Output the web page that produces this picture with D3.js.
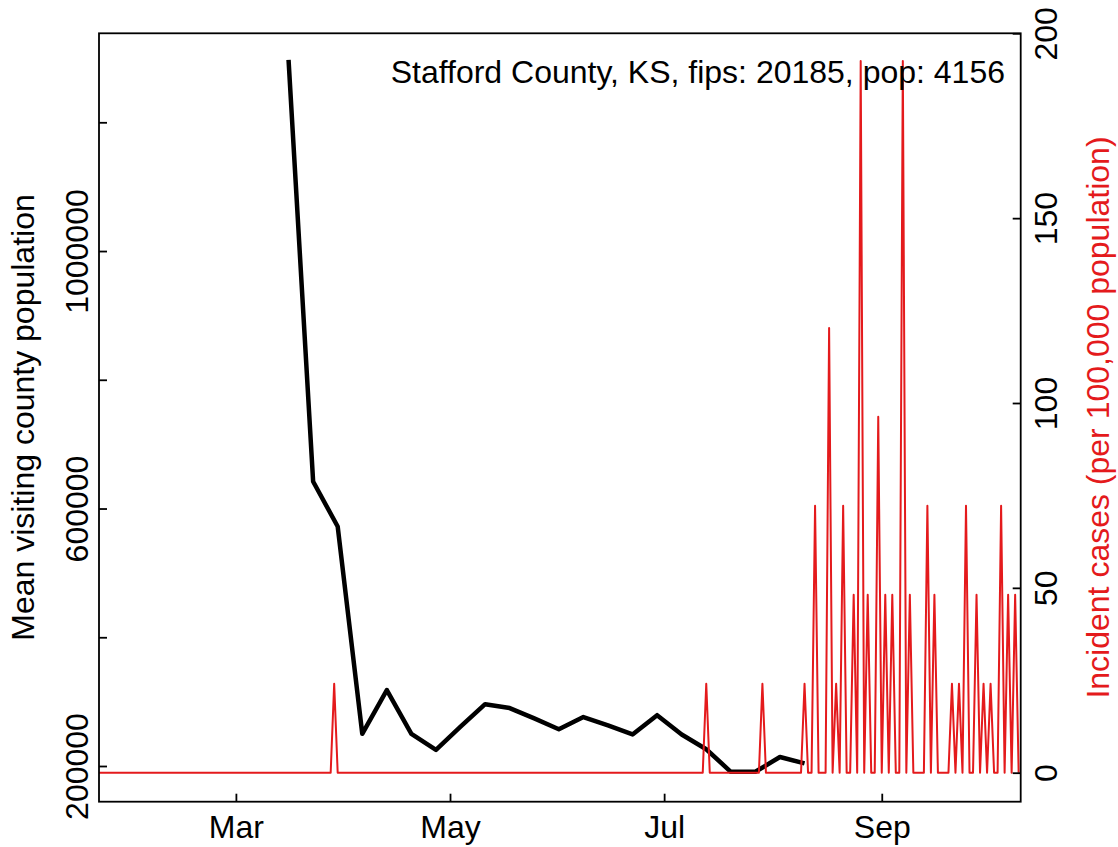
<!DOCTYPE html>
<html>
<head>
<meta charset="utf-8">
<script src="https://cdn.jsdelivr.net/npm/d3@7"></script>
<style>
  html, body { margin: 0; padding: 0; background: #fff; }
  svg { display: block; font-family: "Liberation Sans", Arial, sans-serif; }
</style>
</head>
<body>
<svg id="chart" width="1118" height="847"></svg>
<script>
// ---------------- DATA ----------------
const annotation = "Stafford County, KS, fips: 20185, pop: 4156";
const leftTitle = "Mean visiting county population";
const rightTitle = "Incident cases (per 100,000 population)";

// Weekly mean visiting county population (black line)
const visitDates = ["2020-03-16","2020-03-23","2020-03-30","2020-04-06","2020-04-13","2020-04-20",
  "2020-04-27","2020-05-04","2020-05-11","2020-05-18","2020-05-25","2020-06-01","2020-06-08",
  "2020-06-15","2020-06-22","2020-06-29","2020-07-06","2020-07-13","2020-07-20","2020-07-27",
  "2020-08-03","2020-08-10"];
const visitValues = [1297000, 642000, 572000, 250000, 318000, 250000,
  225000, 261000, 296000, 290000, 274000, 257000, 276000,
  263000, 249000, 279000, 249000, 226000, 191000, 191000,
  214000, 204000];

// Daily incident cases per 100,000 (red line), from 2020-01-22 to 2020-10-10
const caseStart = "2020-01-22";
const casesJan = [0,0,0,0,0,0,0,0,0,0];
const casesFeb = [0,0,0,0,0,0,0,0,0,0,0,0,0,0,0,0,0,0,0,0,0,0,0,0,0,0,0,0,0];
const casesMar = [0,0,0,0,0,0,0,0,0,0,0,0,0,0,0,0,0,0,0,0,0,0,0,0,0,0,0,0,24.06,0,0];
const casesApr = [0,0,0,0,0,0,0,0,0,0,0,0,0,0,0,0,0,0,0,0,0,0,0,0,0,0,0,0,0,0];
const casesMay = [0,0,0,0,0,0,0,0,0,0,0,0,0,0,0,0,0,0,0,0,0,0,0,0,0,0,0,0,0,0,0];
const casesJun = [0,0,0,0,0,0,0,0,0,0,0,0,0,0,0,0,0,0,0,0,0,0,0,0,0,0,0,0,0,0];
const casesJul = [0,0,0,0,0,0,0,0,0,0,0,0,24.06,0,0,0,0,0,0,0,0,0,0,0,0,0,0,0,24.06,0,0];
const casesAug = [0,0,0,0,0,0,0,0,0,24.06,0,0,72.18,0,0,0,120.31,0,24.06,0,72.18,0,0,48.12,0,192.49,0,48.12,0,0,96.25];
const casesSep = [0,48.12,0,48.12,0,0,192.49,0,48.12,0,0,0,0,72.18,0,48.12,0,0,0,0,24.06,0,24.06,0,72.18,0,0,48.12,0,24.06];
const casesOct = [0,24.06,0,0,72.18,0,48.12,0,48.12,0];

const xTickDates = ["2020-03-01","2020-05-01","2020-07-01","2020-09-01"];
const xTickLabels = ["Mar","May","Jul","Sep"];
const leftTickValues = [200000,400000,600000,800000,1000000,1200000];
const leftTickLabels = ["200000","","600000","","1000000",""];
const rightTickValues = [0,50,100,150,200];
const rightTickLabels = ["0","50","100","150","200"];

// ---------------- LAYOUT ----------------
const plot = { left: 99, right: 1020.7, top: 33.3, bottom: 801.7 };
const fontSize = 32;
const red = "#E41A1C";

const parse = d3.utcParse("%Y-%m-%d");
const svg = d3.select("#chart");

const x = d3.scaleUtc()
  .domain([parse("2020-01-22"), new Date(Date.UTC(2020, 9, 10, 14))])
  .range([plot.left, plot.right]);
const yLeft = d3.scaleLinear().domain([200000, 1200000]).range([766, 122.3]);
const yRight = d3.scaleLinear().domain([0, 200]).range([772.7, 33.3]);

// build daily case series
const caseValues = [].concat(casesJan, casesFeb, casesMar, casesApr, casesMay,
  casesJun, casesJul, casesAug, casesSep, casesOct);
const start = parse(caseStart);
const caseSeries = caseValues.map((v, i) => ({ date: d3.utcDay.offset(start, i), value: v }));
const visitSeries = visitDates.map((d, i) => ({ date: parse(d), value: visitValues[i] }));

const blackLine = d3.line().x(d => x(d.date)).y(d => yLeft(d.value));
svg.append("path").datum(visitSeries)
  .attr("d", blackLine).attr("fill", "none").attr("stroke", "#000")
  .attr("stroke-width", 4.5).attr("stroke-linejoin", "round").attr("stroke-linecap", "butt");

const redLine = d3.line().x(d => x(d.date)).y(d => yRight(d.value));
svg.append("path").datum(caseSeries)
  .attr("d", redLine).attr("fill", "none").attr("stroke", red)
  .attr("stroke-width", 2).attr("stroke-linejoin", "round");

// box
svg.append("rect")
  .attr("x", plot.left).attr("y", plot.top)
  .attr("width", plot.right - plot.left).attr("height", plot.bottom - plot.top)
  .attr("fill", "none").attr("stroke", "#000").attr("stroke-width", 1.8);

// left axis
const gL = svg.append("g").attr("transform", `translate(${plot.left},0)`)
  .call(d3.axisLeft(yLeft).tickValues(leftTickValues)
    .tickFormat((d, i) => leftTickLabels[i]).tickSizeInner(-8).tickSizeOuter(0));
gL.select(".domain").remove();
gL.selectAll(".tick line").attr("stroke", "#000").attr("stroke-width", 1.8);
gL.selectAll(".tick text")
  .attr("x", null).attr("dy", null)
  .attr("transform", "translate(-11,0) rotate(-90)")
  .attr("text-anchor", "middle")
  .attr("font-size", fontSize).attr("font-family", "Liberation Sans, Arial, sans-serif")
  .attr("fill", "#000");

// right axis
const gR = svg.append("g").attr("transform", `translate(${plot.right},0)`)
  .call(d3.axisRight(yRight).tickValues(rightTickValues)
    .tickFormat((d, i) => rightTickLabels[i]).tickSizeInner(-8).tickSizeOuter(0));
gR.select(".domain").remove();
gR.selectAll(".tick line").attr("stroke", "#000").attr("stroke-width", 1.8);
gR.selectAll(".tick text")
  .attr("x", null).attr("dy", null)
  .attr("transform", "translate(36.5,0) rotate(-90)")
  .attr("text-anchor", "middle")
  .attr("font-size", fontSize).attr("font-family", "Liberation Sans, Arial, sans-serif")
  .attr("fill", "#000");

// bottom axis
const gB = svg.append("g").attr("transform", `translate(0,${plot.bottom})`)
  .call(d3.axisBottom(x).tickValues(xTickDates.map(parse))
    .tickFormat((d, i) => xTickLabels[i]).tickSizeInner(-8).tickSizeOuter(0));
gB.select(".domain").remove();
gB.selectAll(".tick line").attr("stroke", "#000").attr("stroke-width", 1.8);
gB.selectAll(".tick text")
  .attr("y", 36).attr("dy", null)
  .attr("text-anchor", "middle")
  .attr("font-size", fontSize).attr("font-family", "Liberation Sans, Arial, sans-serif")
  .attr("fill", "#000");

// titles
svg.append("text")
  .attr("transform", `translate(34,${(plot.top + plot.bottom) / 2}) rotate(-90)`)
  .attr("text-anchor", "middle").attr("font-size", fontSize).attr("fill", "#000")
  .text(leftTitle);
svg.append("text")
  .attr("transform", `translate(1109,${(plot.top + plot.bottom) / 2}) rotate(-90)`)
  .attr("text-anchor", "middle").attr("font-size", fontSize).attr("fill", red)
  .text(rightTitle);

// annotation
svg.append("text")
  .attr("x", 1005).attr("y", 83)
  .attr("text-anchor", "end").attr("font-size", fontSize).attr("fill", "#000")
  .text(annotation);
</script>
</body>
</html>
